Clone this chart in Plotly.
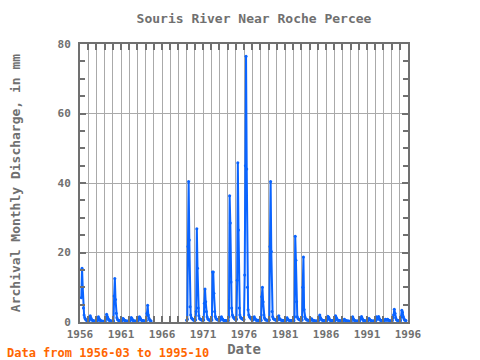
import pandas as pd
import plotly.graph_objects as go

# Monthly discharge (mm), first period starts 1956-03
flow_1956_1964 = [
    7, 15.5, 10, 4, 2, 1.2, 0.8, 0.6, 0.4, 0.3,                 # 1956 Mar-Dec
    0.3, 0.3, 0.8, 1.8, 1.2, 0.7, 0.5, 0.4, 0.3, 0.3, 0.3, 0.2,  # 1957
    0.2, 0.2, 0.6, 1.5, 1.0, 0.6, 0.4, 0.3, 0.3, 0.2, 0.2, 0.2,  # 1958
    0.2, 0.3, 1.0, 2.2, 1.6, 1.0, 0.6, 0.5, 0.4, 0.3, 0.3, 0.2,  # 1959
    0.3, 0.3, 7.5, 12.5, 6.5, 2.5, 1.2, 0.7, 0.5, 0.4, 0.3, 0.3, # 1960
    0.3, 0.3, 0.6, 1.0, 0.8, 0.5, 0.4, 0.3, 0.3, 0.3, 0.2, 0.2,  # 1961
    0.2, 0.2, 0.7, 1.3, 1.0, 0.6, 0.4, 0.3, 0.3, 0.3, 0.2, 0.2,  # 1962
    0.2, 0.3, 0.8, 1.5, 1.2, 0.8, 0.5, 0.4, 0.4, 0.3, 0.3, 0.3,  # 1963
    0.3, 0.4, 2.5, 4.8, 2.0, 1.0, 0.6, 0.4, 0.3,                 # 1964 Jan-Sep
]
start_1 = "1956-03-01"

# Second period starts 1969-01, ends 1995-10
flow_1969_1995 = [
    0.5, 0.8, 21.7, 40.4, 23.6, 4.4, 2.0, 1.2, 0.9, 0.8, 0.6, 0.5,   # 1969
    0.5, 0.6, 3.0, 26.8, 15.5, 4.0, 1.8, 1.0, 0.8, 0.7, 0.6, 0.5,    # 1970
    0.5, 0.6, 5.4, 9.5, 5.8, 3.0, 1.5, 0.9, 0.7, 0.6, 0.5, 0.5,      # 1971
    0.5, 0.6, 14.4, 14.4, 8.3, 3.0, 1.6, 1.0, 0.8, 0.7, 0.6, 0.5,    # 1972
    0.5, 0.5, 1.2, 1.5, 1.0, 0.7, 0.5, 0.4, 0.4, 0.4, 0.3, 0.3,      # 1973
    0.3, 0.4, 1.5, 36.3, 28.5, 11.5, 4.0, 2.0, 1.5, 1.2, 1.0, 0.8,   # 1974
    0.7, 0.8, 12, 45.8, 26.5, 4.0, 2.0, 1.4, 1.1, 1.0, 0.8, 0.7,     # 1975
    0.7, 13.5, 45, 76.5, 44, 10, 3.5, 2.0, 1.5, 1.2, 1.0, 0.8,       # 1976
    0.6, 0.6, 1.2, 1.5, 1.0, 0.7, 0.5, 0.5, 0.5, 0.5, 0.4, 0.4,      # 1977
    0.4, 0.5, 7.3, 10.0, 5.8, 2.0, 1.2, 0.8, 0.6, 0.6, 0.5, 0.5,     # 1978
    0.5, 0.6, 21.7, 40.4, 20.3, 3.0, 1.5, 1.0, 0.8, 0.7, 0.6, 0.5,   # 1979
    0.5, 0.6, 1.5, 1.8, 1.0, 0.7, 0.6, 0.5, 0.5, 0.4, 0.4, 0.4,      # 1980
    0.4, 0.4, 1.0, 1.2, 0.8, 0.6, 0.5, 0.4, 0.4, 0.4, 0.3, 0.3,      # 1981
    0.3, 0.4, 1.5, 24.7, 17.8, 5.8, 1.5, 1.0, 0.8, 0.7, 0.6, 0.5,    # 1982
    0.5, 0.6, 10, 18.7, 3.6, 1.5, 1.0, 0.8, 0.6, 0.6, 0.5, 0.5,      # 1983
    0.4, 0.4, 0.8, 0.9, 0.6, 0.5, 0.4, 0.3, 0.3, 0.3, 0.3, 0.3,      # 1984
    0.3, 0.4, 1.5, 2.0, 1.2, 0.8, 0.6, 0.5, 0.4, 0.4, 0.3, 0.3,      # 1985
    0.3, 0.4, 1.0, 1.6, 1.4, 0.8, 0.5, 0.4, 0.4, 0.4, 0.3, 0.3,      # 1986
    0.3, 0.4, 1.8, 1.3, 0.8, 0.6, 0.5, 0.4, 0.4, 0.3, 0.3, 0.3,      # 1987
    0.3, 0.3, 0.6, 0.8, 0.5, 0.4, 0.3, 0.3, 0.3, 0.3, 0.2, 0.2,      # 1988
    0.2, 0.3, 1.0, 1.5, 1.0, 0.6, 0.4, 0.3, 0.3, 0.3, 0.3, 0.3,      # 1989
    0.3, 0.3, 0.8, 1.0, 1.6, 1.0, 0.6, 0.4, 0.4, 0.3, 0.3, 0.3,      # 1990
    0.3, 0.3, 0.7, 1.0, 0.7, 0.5, 0.4, 0.3, 0.3, 0.3, 0.3, 0.3,      # 1991
    0.3, 0.4, 1.5, 1.2, 0.8, 1.6, 1.0, 0.6, 0.5, 0.4, 0.3, 0.3,      # 1992
    0.3, 0.3, 0.6, 0.8, 0.6, 0.5, 0.8, 0.6, 0.5, 0.4, 0.3, 0.3,      # 1993
    0.3, 0.4, 1.2, 2.0, 3.7, 2.5, 1.2, 0.7, 0.5, 0.4, 0.3, 0.3,      # 1994
    0.3, 0.4, 1.5, 3.4, 2.8, 1.5, 1.0, 0.6, 0.5, 0.4,                # 1995 Jan-Oct
]
start_2 = "1969-01-01"

title_text = "Souris River Near Roche Percee"
y_title = "Archival Monthly Discharge, in mm"
x_title = "Date"
note_text = "Data from 1956-03 to 1995-10"

dates_1 = pd.date_range(start_1, periods=len(flow_1956_1964), freq="MS")
dates_2 = pd.date_range(start_2, periods=len(flow_1969_1995), freq="MS")

x = list(dates_1) + [pd.Timestamp("1966-06-01")] + list(dates_2)
y = flow_1956_1964 + [None] + flow_1969_1995

blue = "#0A64FF"
axis_col = "#707070"
grid_col = "#AAAAAA"
font_family = "DejaVu Sans Mono, monospace"

fig = go.Figure()
fig.add_trace(go.Scatter(
    x=x, y=y, mode="lines+markers",
    line=dict(color=blue, width=2),
    marker=dict(color=blue, size=3),
    connectgaps=False, showlegend=False,
))

fig.update_layout(
    width=480, height=360,
    margin=dict(l=80, r=72, t=44, b=38, autoexpand=False),
    paper_bgcolor="white", plot_bgcolor="white",
    font=dict(family=font_family, color=axis_col, size=11),
    title=dict(text="<b>" + title_text + "</b>", x=254 / 480, xanchor="center",
               y=1 - 18 / 360, yanchor="middle",
               font=dict(family=font_family, size=13, color=axis_col)),
    xaxis=dict(
        range=["1956-01-01", "1996-01-01"],
        tick0="1956-01-01", dtick="M60", tickformat="%Y",
        showgrid=True, gridcolor=grid_col, gridwidth=1,
        ticks="inside", ticklen=6, tickwidth=2, tickcolor=axis_col,
        showline=True, linecolor=axis_col, linewidth=2, mirror="allticks",
        minor=dict(dtick="M12", tick0="1956-01-01", showgrid=True,
                   gridcolor=grid_col, gridwidth=1, ticks="inside",
                   ticklen=6, tickwidth=2, tickcolor=axis_col),
        tickfont=dict(family=font_family, size=11, color=axis_col, weight="bold"),
        ticklabelstandoff=1,
        automargin=False,
        title=dict(text="<b>" + x_title + "</b>", standoff=1,
                   font=dict(family=font_family, size=14, color=axis_col)),
        zeroline=False,
    ),
    yaxis=dict(
        range=[0, 80], dtick=20, tick0=0,
        showgrid=True, gridcolor=grid_col, gridwidth=1,
        ticks="inside", ticklen=6, tickwidth=2, tickcolor=axis_col,
        showline=True, linecolor=axis_col, linewidth=2, mirror="allticks",
        minor=dict(dtick=5, showgrid=False, ticks="inside",
                   ticklen=5, tickwidth=2, tickcolor=axis_col),
        tickfont=dict(family=font_family, size=11, color=axis_col, weight="bold"),
        ticklabelstandoff=5,
        automargin=False,
        title=dict(text="<b>" + y_title + "</b>", standoff=34,
                   font=dict(family=font_family, size=13, color=axis_col)),
        zeroline=False,
    ),
    annotations=[dict(
        text="<b>" + note_text + "</b>", xref="paper", yref="paper",
        x=-75 / 328, y=-31 / 278, xanchor="left", yanchor="middle",
        showarrow=False,
        font=dict(family=font_family, size=12, color="#FF6600"),
    )],
)

fig.write_html("out.html", config={"displayModeBar": False},
               post_script="document.body.style.margin='0';")
